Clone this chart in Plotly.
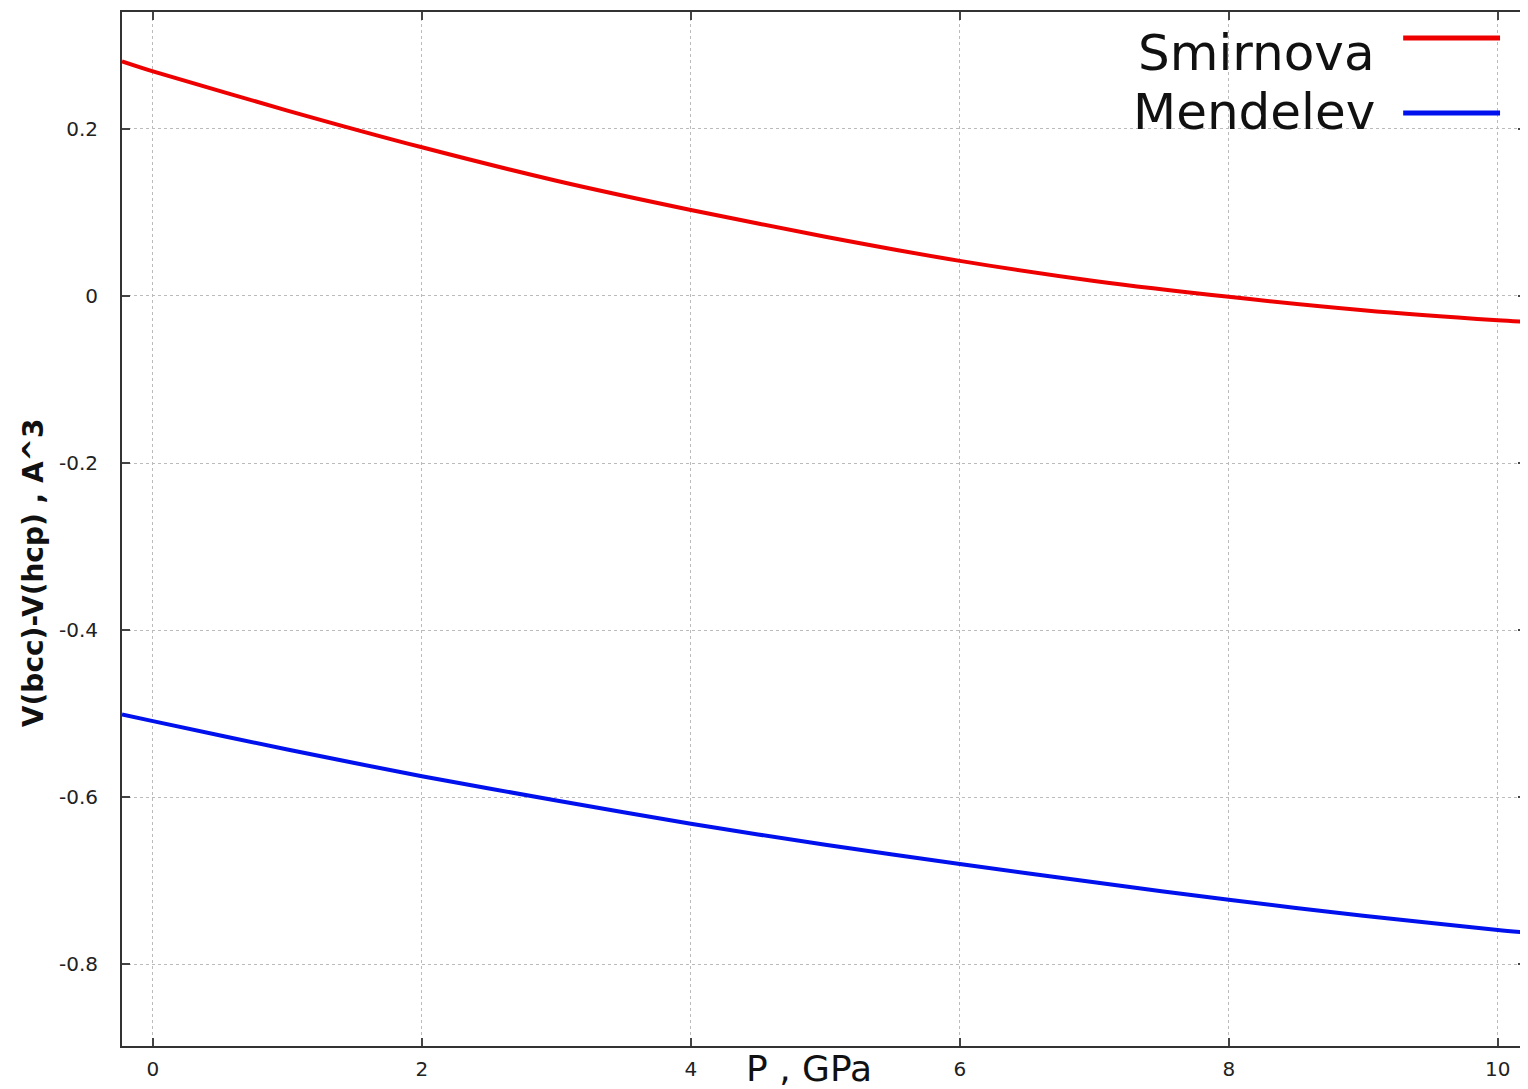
import plotly.graph_objects as go

pressure = [-0.23, 0, 1, 2, 3, 4, 5, 6, 7, 8, 9, 10, 10.21]
smirnova = [0.281, 0.269, 0.222, 0.178, 0.138, 0.103, 0.071, 0.042, 0.018, -0.001, -0.017, -0.029, -0.031]
mendelev = [-0.501, -0.509, -0.543, -0.575, -0.604, -0.632, -0.657, -0.680, -0.702, -0.723, -0.742, -0.759, -0.762]

series_names = ["Smirnova", "Mendelev"]
series_colors = ["#ee0000", "#0011ee"]
x_ticks = [0, 2, 4, 6, 8, 10]
y_ticks = [-0.8, -0.6, -0.4, -0.2, 0, 0.2]

fig = go.Figure()
for name, vals, col in zip(series_names, [smirnova, mendelev], series_colors):
    fig.add_trace(go.Scatter(x=pressure, y=vals, mode="lines", name=name,
                             line=dict(color=col, width=4, shape="spline", smoothing=0.8),
                             showlegend=False))

axis_common = dict(showline=True, linecolor="#333333", linewidth=2, mirror="allticks",
                   ticks="inside", ticklen=8, tickwidth=2, tickcolor="#444444",
                   showgrid=True, gridcolor="#bbbbbb", gridwidth=1, griddash="dot",
                   zeroline=False, tickfont=dict(family="DejaVu Sans", size=20, color="#222222"))

fig.update_xaxes(range=[-0.23, 10.21], tickvals=x_ticks, ticktext=[str(v) for v in x_ticks],
                 ticklabelstandoff=4, **axis_common)
fig.update_yaxes(range=[-0.898, 0.340], tickvals=y_ticks, ticktext=[f"{v:g}" for v in y_ticks],
                 ticklabelstandoff=18, **axis_common)

# page body has an 8px margin; figure origin sits at (8, 8) on screen
OX, OY = 8, 8
L, T = 122 - OX, 12 - OY
PW = 1528 - 122.0
PH = 1046 - 12.0

def px(xs):
    return (xs - 122) / PW

def py(ys):
    return 1 - (ys - 12) / PH

# legend (text left of line sample, gnuplot style)
legend_rows = [(53, 38), (112, 113)]
for (ty, ly), name, col in zip(legend_rows, series_names, series_colors):
    fig.add_annotation(xref="paper", yref="paper", x=px(1379), y=py(ty),
                       text=name, showarrow=False, xanchor="right", yanchor="middle",
                       font=dict(family="DejaVu Sans", size=50, color="#111111"))
    fig.add_shape(type="line", xref="paper", yref="paper",
                  x0=px(1405), x1=px(1502), y0=py(ly), y1=py(ly),
                  line=dict(color=col, width=5))

fig.add_annotation(xref="paper", yref="paper", x=px(810), y=py(1068),
                   text="P , GPa", showarrow=False, xanchor="center", yanchor="middle",
                   font=dict(family="DejaVu Sans", size=36, color="#111111"))
fig.add_annotation(xref="paper", yref="paper", x=px(33), y=py(573),
                   text="<b>V(bcc)-V(hcp) , A^3</b>", showarrow=False, textangle=-90,
                   xanchor="center", yanchor="middle",
                   font=dict(family="DejaVu Sans", size=28, color="#111111"))

fig.update_layout(width=1528 - OX, height=1089 - OY,
                  margin=dict(l=L, r=0, t=T, b=1089 - 1046),
                  plot_bgcolor="white", paper_bgcolor="white")

fig.write_html("out.html")
